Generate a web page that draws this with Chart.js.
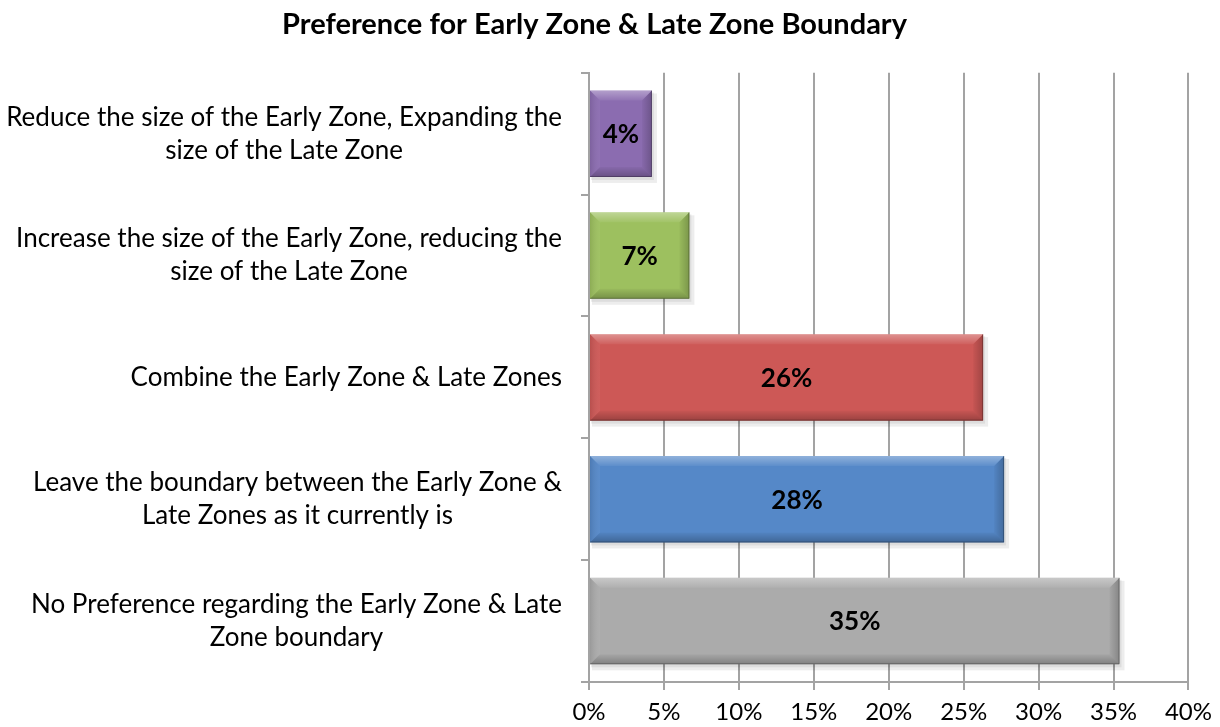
<!DOCTYPE html>
<html>
<head>
<meta charset="utf-8">
<script src="https://cdn.jsdelivr.net/npm/chart.js@4.4.1/dist/chart.umd.min.js"></script>
<style>
    html, body { margin: 0; padding: 0; background: #ffffff; }
    #wrap { width: 1220px; height: 727px; position: relative; }
</style>
</head>
<body>
<div id="wrap"><canvas id="mainChart"></canvas></div>
<script>
// Data
const categories = [
    ['Reduce the size of the Early Zone, Expanding the', 'size of the Late Zone'],
    ['Increase the size of the Early Zone, reducing the', 'size of the Late Zone'],
    ['Combine the Early Zone & Late Zones'],
    ['Leave the boundary between the Early Zone &', 'Late Zones as it currently is'],
    ['No Preference regarding the Early Zone & Late', 'Zone boundary']
];
const values = [4.2, 6.7, 26.3, 27.7, 35.4];
const barColors = ['#8B6CB0', '#9DC05F', '#CD5856', '#5588C8', '#ABABAB'];
const xTicks = [0, 5, 10, 15, 20, 25, 30, 35, 40];

const labelFont = '26px Lato';
const gridColor = '#a3a3a3';

// Category labels: block right-aligned, lines centred within the block
const catLabels = {
    id: 'catLabels',
    afterDraw(chart) {
        const ctx = chart.ctx;
        const y = chart.scales.y;
        const right = chart.chartArea.left - 27;
        const lineH = 33;
        ctx.save();
        ctx.font = labelFont;
        ctx.fillStyle = '#000';
        ctx.textAlign = 'center';
        ctx.textBaseline = 'middle';
        categories.forEach((lines, i) => {
            const w = Math.max(...lines.map(l => ctx.measureText(l).width));
            const cx = right - w / 2;
            const cy = y.getPixelForValue(i);
            lines.forEach((l, k) => {
                ctx.fillText(l, cx, cy + (k - (lines.length - 1) / 2) * lineH);
            });
        });
        ctx.restore();
    }
};

// Bevel + value labels drawn on each bar
const barDecor = {
    id: 'barDecor',
    beforeDatasetsDraw(chart) {
        // soft shadow under each bar
        const ctx = chart.ctx;
        const meta = chart.getDatasetMeta(0);
        ctx.save();
        meta.data.forEach(bar => {
            const top = bar.y - bar.height / 2;
            ctx.fillStyle = 'rgba(0,0,0,0.07)';
            ctx.fillRect(bar.base + 2, top + 3, bar.x - bar.base + 3, bar.height + 3);
            ctx.fillStyle = 'rgba(0,0,0,0.07)';
            ctx.fillRect(bar.base + 1, top + 2, bar.x - bar.base + 1, bar.height + 1);
        });
        ctx.restore();
    },
    afterDatasetsDraw(chart) {
        const ctx = chart.ctx;
        const meta = chart.getDatasetMeta(0);
        ctx.save();
        meta.data.forEach((bar, i) => {
            const l = bar.base, r = bar.x;
            const t = bar.y - bar.height / 2, b = bar.y + bar.height / 2;
            const e = Math.min(10, (r - l) / 4);
            const poly = (pts, fill) => {
                ctx.beginPath();
                ctx.moveTo(pts[0][0], pts[0][1]);
                pts.slice(1).forEach(p => ctx.lineTo(p[0], p[1]));
                ctx.closePath();
                ctx.fillStyle = fill;
                ctx.fill();
            };
            const gTop = ctx.createLinearGradient(0, t, 0, t + e);
            gTop.addColorStop(0, 'rgba(255,255,255,0.35)');
            gTop.addColorStop(1, 'rgba(255,255,255,0.05)');
            poly([[l, t], [r, t], [r - e, t + e], [l + e, t + e]], gTop);
            const gLeft = ctx.createLinearGradient(l, 0, l + e, 0);
            gLeft.addColorStop(0, 'rgba(0,0,0,0.10)');
            gLeft.addColorStop(1, 'rgba(255,255,255,0.04)');
            poly([[l, t], [l + e, t + e], [l + e, b - e], [l, b]], gLeft);
            const gRight = ctx.createLinearGradient(r - e, 0, r, 0);
            gRight.addColorStop(0, 'rgba(0,0,0,0.03)');
            gRight.addColorStop(1, 'rgba(0,0,0,0.22)');
            poly([[r, t], [r, b], [r - e, b - e], [r - e, t + e]], gRight);
            const gBot = ctx.createLinearGradient(0, b - e, 0, b);
            gBot.addColorStop(0, 'rgba(0,0,0,0.03)');
            gBot.addColorStop(1, 'rgba(0,0,0,0.25)');
            poly([[l, b], [l + e, b - e], [r - e, b - e], [r, b]], gBot);
            ctx.strokeStyle = 'rgba(0,0,0,0.25)';
            ctx.lineWidth = 1;
            ctx.beginPath();
            ctx.moveTo(r - 0.5, t);
            ctx.lineTo(r - 0.5, b - 0.5);
            ctx.lineTo(l, b - 0.5);
            ctx.stroke();

            ctx.font = 'bold 26px Lato';
            ctx.fillStyle = '#000';
            ctx.textAlign = 'center';
            ctx.textBaseline = 'middle';
            ctx.fillText(Math.round(values[i]) + '%', (l + r) / 2, bar.y + 1);
        });
        ctx.restore();
    }
};

new Chart(document.getElementById('mainChart'), {
    type: 'bar',
    data: {
        labels: categories,
        datasets: [{
            data: values,
            backgroundColor: barColors,
            borderWidth: 0,
            barPercentage: 0.71,
            categoryPercentage: 1
        }]
    },
    options: {
        indexAxis: 'y',
        responsive: true,
        maintainAspectRatio: false,
        animation: false,
        layout: { padding: { left: 0, right: 31, top: 0, bottom: 0 } },
        plugins: {
            legend: { display: false },
            tooltip: { enabled: false },
            title: {
                display: true,
                text: 'Preference for Early Zone & Late Zone Boundary',
                color: '#000',
                font: { family: 'Lato', size: 29, weight: 'bold', lineHeight: 1.2 },
                padding: { top: 7, bottom: 31 }
            }
        },
        scales: {
            x: {
                min: 0,
                max: 40,
                afterBuildTicks(scale) { scale.ticks = xTicks.map(v => ({ value: v })); },
                afterFit(scale) { scale.height = 45; },
                grid: { color: gridColor, lineWidth: 2, tickLength: 8 },
                border: { color: gridColor, width: 2 },
                ticks: {
                    color: '#000',
                    padding: 8,
                    font: { family: 'Lato', size: 24 },
                    callback: v => v + '%'
                }
            },
            y: {
                offset: true,
                afterFit(scale) { scale.width = 589; },
                grid: { offset: true, drawOnChartArea: false, color: gridColor, lineWidth: 2, tickLength: 8 },
                border: { color: gridColor, width: 2 },
                ticks: { display: false }
            }
        }
    },
    plugins: [catLabels, barDecor]
});
</script>
</body>
</html>
